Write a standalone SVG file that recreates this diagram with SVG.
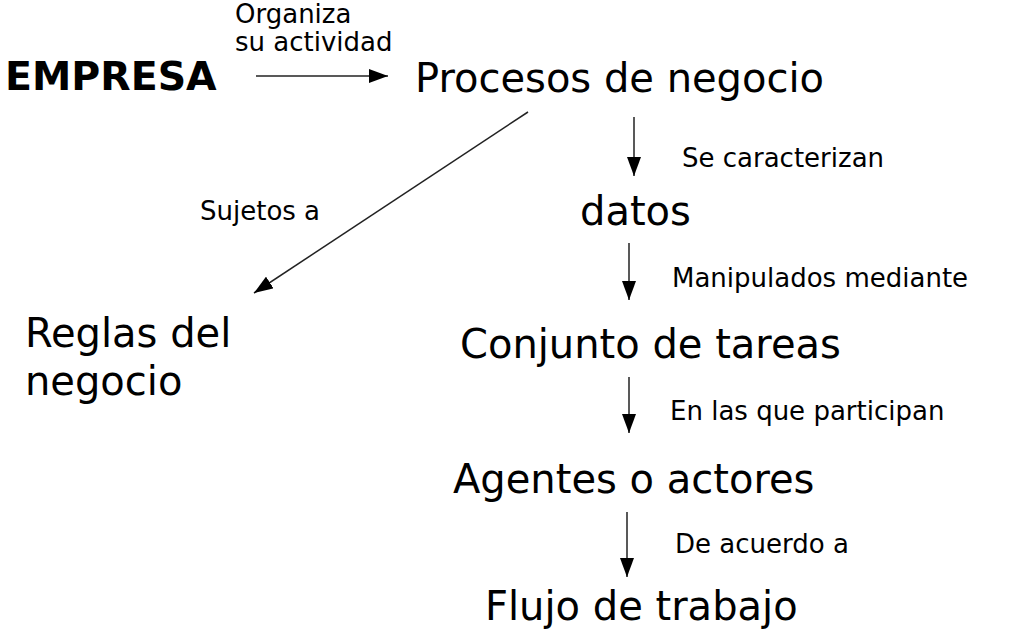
<svg xmlns="http://www.w3.org/2000/svg" width="1024" height="636" viewBox="0 0 1024 636">
<style>
.big{font-family:"DejaVu Sans",Verdana,sans-serif;font-size:40px;fill:#000}
.bold{font-family:"DejaVu Sans",Verdana,sans-serif;font-size:39.5px;font-weight:bold;fill:#000}
.lbl{font-family:"DejaVu Sans",Verdana,sans-serif;font-size:26px;fill:#000}
.con{stroke:#222;stroke-width:1.5;fill:none;marker-end:url(#ah)}
</style>
<defs>
<marker id="ah" markerUnits="userSpaceOnUse" markerWidth="20" markerHeight="14" refX="19" refY="7" orient="auto">
<path d="M0,0 L19,7 L0,14 Z" fill="#000"/>
</marker>
</defs>
<rect width="1024" height="636" fill="#fff"/>
<g id="connectors">
<line class="con" x1="256" y1="76" x2="388" y2="76"/>
<line class="con" x1="528" y1="112" x2="254" y2="293"/>
<line class="con" x1="634" y1="117" x2="634" y2="176"/>
<line class="con" x1="629" y1="243" x2="629" y2="300"/>
<line class="con" x1="629" y1="377" x2="629" y2="433"/>
<line class="con" x1="627" y1="512" x2="627" y2="577"/>
</g>
<g id="labels">
<text class="lbl" x="235" y="23">Organiza</text>
<text class="lbl" x="235" y="51">su actividad</text>
<text class="lbl" x="682" y="167">Se caracterizan</text>
<text class="lbl" x="200" y="220">Sujetos a</text>
<text class="lbl" x="672" y="287">Manipulados mediante</text>
<text class="lbl" x="670" y="420">En las que participan</text>
<text class="lbl" x="675" y="553">De acuerdo a</text>
</g>
<g id="empresa"><text class="bold" x="5" y="90">EMPRESA</text></g>
<g id="procesos"><text class="big" x="415" y="92">Procesos de negocio</text></g>
<g id="datos"><text class="big" x="580" y="225">datos</text></g>
<g id="reglas"><text class="big" x="25" y="347">Reglas del</text><text class="big" x="25" y="395">negocio</text></g>
<g id="conjunto"><text class="big" x="460" y="358">Conjunto de tareas</text></g>
<g id="agentes"><text class="big" x="453" y="493">Agentes o actores</text></g>
<g id="flujo"><text class="big" x="485" y="620">Flujo de trabajo</text></g>
</svg>
